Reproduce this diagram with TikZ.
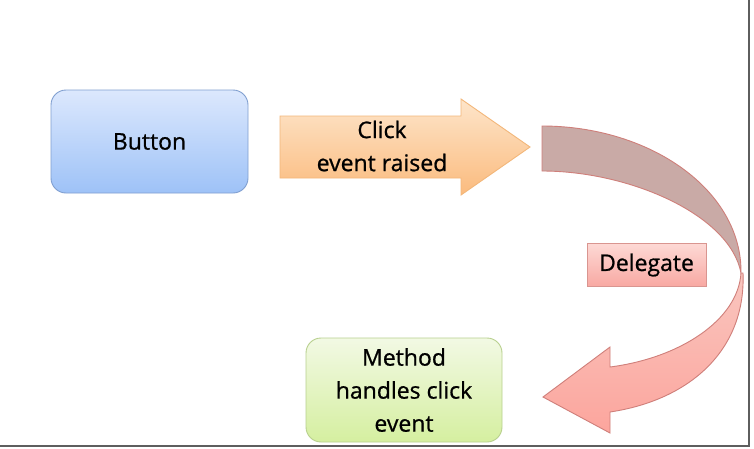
\documentclass[tikz,border=0pt]{standalone}
\usepackage{fontspec}
\setmainfont{Open Sans}
\newfontfamily\labelfont{Open Sans}[FakeBold=0.8]
\definecolor{btntop}{HTML}{DCE8FD}
\definecolor{btnbot}{HTML}{9EC2F7}
\definecolor{btnline}{HTML}{809FD0}
\definecolor{clicktop}{HTML}{FDE5CA}
\definecolor{clickbot}{HTML}{FBBB7E}
\definecolor{clickline}{HTML}{F3B77A}
\definecolor{backfill}{HTML}{C9AAA6}
\definecolor{fronttop}{HTML}{F9C6BF}
\definecolor{frontbot}{HTML}{FCA59D}
\definecolor{curveline}{HTML}{CF7F7A}
\definecolor{deltop}{HTML}{FDD9D5}
\definecolor{delbot}{HTML}{F8A8A2}
\definecolor{delline}{HTML}{D99590}
\definecolor{methtop}{HTML}{F2F9E4}
\definecolor{methbot}{HTML}{D5EFA0}
\definecolor{methline}{HTML}{B8D08E}
\definecolor{frameline}{HTML}{5E5E5E}
\tikzset{
    label text/.style={font=\labelfont\fontsize{23}{33}\selectfont,align=center,text=black},
}
\begin{document}
\begin{tikzpicture}[x=1pt,y=-1pt]
                \useasboundingbox[fill=white] (0,0) rectangle (754,448);
                %% boxes
                \node[label text,rounded corners=15pt,draw=btnline,line width=0.9pt,top color=btntop,bottom color=btnbot,
                      minimum width=197pt,minimum height=103pt] (button) at (149.5,141.5) {Button};
                \node[label text,rounded corners=15pt,draw=methline,line width=0.9pt,top color=methtop,bottom color=methbot,
                      minimum width=196pt,minimum height=104pt] (method) at (404,390) {Method\\handles click\\event};
                \node[label text,draw=delline,line width=0.9pt,top color=deltop,bottom color=delbot,
                      minimum width=119pt,minimum height=43pt] (delegate) at (646.5,265) {Delegate};
                %% click arrow
                \draw[clickline,line width=0.9pt,top color=clicktop,bottom color=clickbot]
                    (280,116) -- (461,116) -- (461,99) -- (530,147) -- (461,195) -- (461,178) -- (280,178) -- cycle;
                \node[label text] (click) at (382,146) {Click\\event raised};
                %% curved arrow, back side
                \coordinate (cross) at (741,273);
                \draw[curveline,line width=0.9pt,fill=backfill]
                    (542,126) .. controls (650,126) and (742,190) .. (cross)
                    .. controls (730,215) and (630,171) .. (542,171) -- cycle;
                %% curved arrow, front side
                \draw[curveline,line width=0.9pt,top color=fronttop,bottom color=frontbot]
                    (cross) .. controls (738,320) and (680,358) .. (610,367)
                    -- (610,347) -- (543,397) -- (610,433) -- (610,412)
                    .. controls (690,400) and (746,350) .. (743,273) -- cycle;
                %% frame
                \draw[frameline,line width=2pt] (749,0) -- (749,445.5) -- (0,445.5);
\end{tikzpicture}
\end{document}
